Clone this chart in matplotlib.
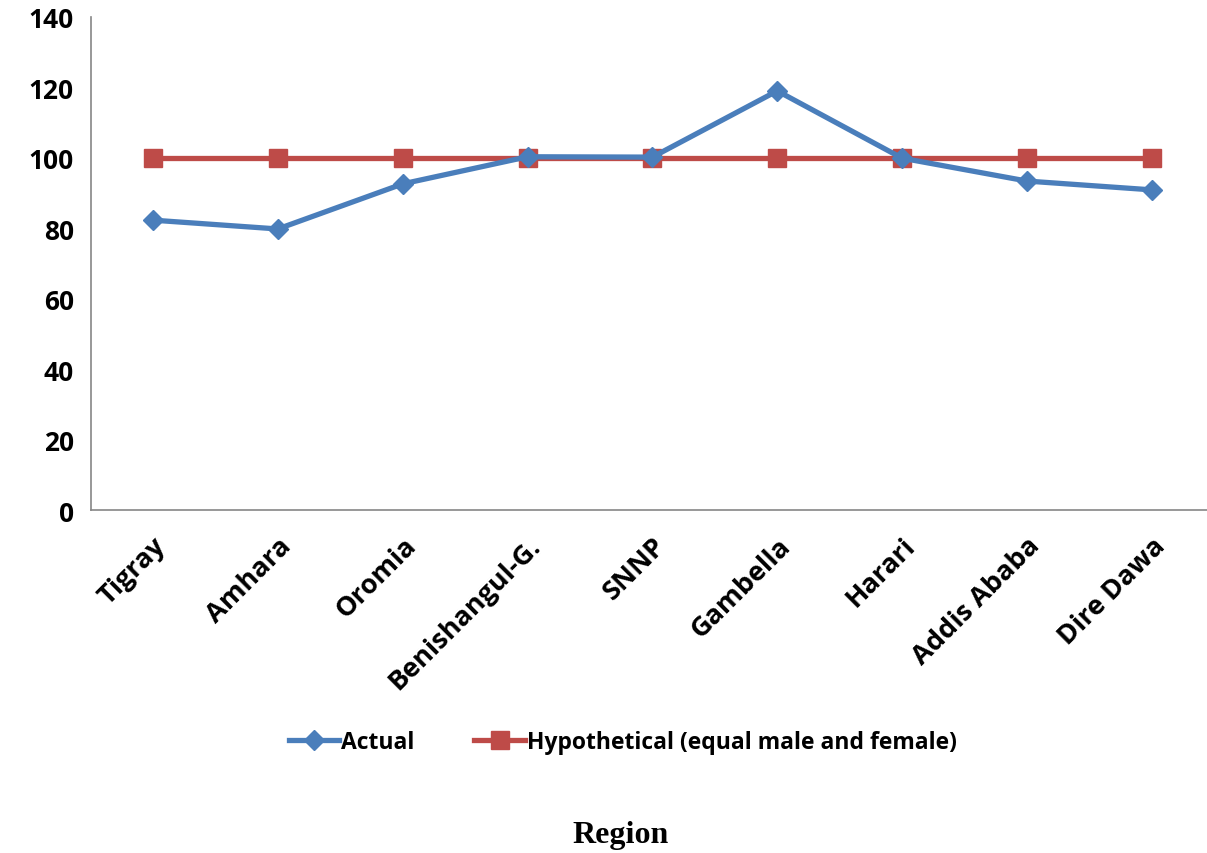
import numpy as np
import matplotlib.pyplot as plt

# Data
regions = ['Tigray', 'Amhara', 'Oromia', 'Benishangul-G.', 'SNNP',
           'Gambella', 'Harari', 'Addis Ababa', 'Dire Dawa']
actual = [82.3, 79.8, 92.6, 100.3, 100.2, 119.0, 99.9, 93.4, 90.9]
hypothetical = [100, 100, 100, 100, 100, 100, 100, 100, 100]
yticks = [0, 20, 40, 60, 80, 100, 120, 140]

plt.rcParams['font.family'] = ['Open Sans', 'DejaVu Sans']

fig = plt.figure(figsize=(12.07, 8.54), dpi=100)
ax = fig.add_axes([0.075, 0.4016, 0.931, 0.5774])

x = np.arange(len(regions))
ax.plot(x, actual, color='#4A7EBB', lw=3.8, marker='D', markersize=10,
        label='Actual', zorder=3)
ax.plot(x, hypothetical, color='#BE4B48', lw=3.8, marker='s', markersize=13,
        label='Hypothetical (equal male and female)', zorder=2)

ax.set_xlim(-0.5, len(regions) - 0.5)
ax.set_ylim(0, 140)
ax.set_yticks(yticks)
ax.set_xticks(x)
ax.set_xticklabels(regions, rotation=45, ha='right', rotation_mode='anchor',
                   fontsize=19.5, fontweight='bold')
ax.set_yticklabels([str(v) for v in yticks], fontsize=19, fontweight='bold')
ax.tick_params(length=0, pad=12)
ax.tick_params(axis='x', pad=16)

for s in ['top', 'right']:
    ax.spines[s].set_visible(False)
for s in ['left', 'bottom']:
    ax.spines[s].set_color('#868686')
    ax.spines[s].set_linewidth(1.2)

leg = fig.legend(loc='center', bbox_to_anchor=(0.516, 0.130), ncol=2, frameon=False,
                 prop={'weight': 'bold', 'size': 16.5}, handlelength=2.2,
                 handletextpad=0.1, columnspacing=2.6)

fig.text(0.514, 0.022, 'Region', ha='center', va='center',
         fontsize=23, fontweight='bold', family='Liberation Serif')

fig.savefig('out.png', dpi=100)
